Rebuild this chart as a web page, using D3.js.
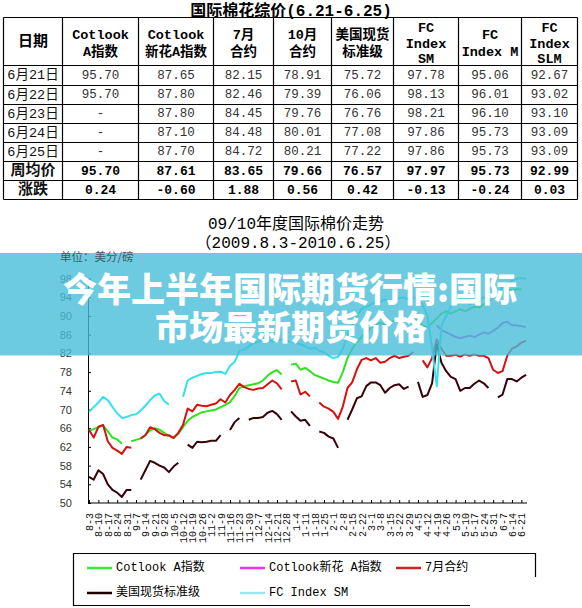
<!DOCTYPE html>
<html>
<head>
<meta charset="utf-8">
<script src="https://cdn.jsdelivr.net/npm/d3@7"></script>
<style>
  html, body { margin: 0; padding: 0; background: #fff; }
  svg { display: block; }
</style>
</head>
<body>
<div id="chart"></div>
<script>
// ---- table data ----
var tableTitle = '国际棉花综价(6.21-6.25)';
var headers = [['日期'], ['Cotlook', 'A指数'], ['Cotlook', '新花A指数'], ['7月', '合约'], ['10月', '合约'],
    ['美国现货', '标准级'], ['FC', 'Index', 'SM'], ['FC', 'Index M'], ['FC', 'Index', 'SLM']];
var rowLabels = ['6月21日', '6月22日', '6月23日', '6月24日', '6月25日', '周均价', '涨跌'];
var colCotlookA = ['95.70', '95.70', '-', '-', '-', '95.70', '0.24'];
var colCotlookNew = ['87.65', '87.80', '87.80', '87.10', '87.70', '87.61', '-0.60'];
var colJuly = ['82.15', '82.46', '84.45', '84.48', '84.72', '83.65', '1.88'];
var colOct = ['78.91', '79.39', '79.76', '80.01', '80.21', '79.66', '0.56'];
var colUsSpot = ['75.72', '76.06', '76.76', '77.08', '77.22', '76.57', '0.42'];
var colFcSM = ['97.78', '98.13', '98.21', '97.86', '97.86', '97.97', '-0.13'];
var colFcM = ['95.06', '96.01', '96.10', '95.73', '95.73', '95.73', '-0.24'];
var colFcSLM = ['92.67', '93.02', '93.10', '93.09', '93.09', '92.99', '0.03'];

// ---- chart data (one value every half week, from 8-3) ----
var weekLabels = ['8-3', '8-10', '8-17', '8-24', '8-31', '9-7', '9-14', '9-21', '9-28', '10-5', '10-12', '10-19', '10-26',
    '11-2', '11-9', '11-16', '11-23', '11-30', '12-7', '12-14', '12-21', '12-28', '1-4', '1-11', '1-18', '1-25',
    '2-1', '2-8', '2-15', '2-22', '3-1', '3-8', '3-15', '3-22', '3-29', '4-5', '4-12', '4-19', '4-26',
    '5-3', '5-10', '5-17', '5-24', '5-31', '6-7', '6-14', '6-21'];
var yTicks = [50, 54, 58, 62, 66, 70, 74, 78, 82, 86, 90, 94, 98];

var cotlookA = [65.5, 65.8, 66.2, 66.6, 65.3, 64, 63.6, 62.7, null, 63.2,
    63.5, 63.8, 64.6, 65.5, 66, 65.7, 65, 64.3, 64, 64.8,
    66.2, 67.6, 68.4, 68.9, 69.4, 69.6, 69.8, 70, 70.5, 71,
    71.6, 72.9, 74.6, 75, 75.2, 75.4, 75.6, 76.2, 77.2, 78,
    78.4, 77.5, null, 79.6, 79.8, 78.5, 78.9, 78.2, 77.4, 77,
    76.6, 76.2, 75.9, 75.7, 78, 81, 83, 84.5, 85.5, 86.5,
    87.5, 88, 88.5, 88.2, 88.7, 89, 89.2, 88.8, 89.3, 89.7,
    89, 88, 87.5, 88.5, 89.5, 90.5, 91, 90.5, 91, 91.5,
    91, 91.5, 92, 91.8, 92.5, 93, 94, 94.5, 95, 95.7,
    95.5, 95.7, 95.7, null];
var newCropStart = 74;
var cotlookNew = [88, 87, 86.5, 86, 85.5, 85.3, 85.5, 85.8, 85.5, 86,
    86.5, 86.2, 86.8, 87.5, 88.5, 88.8, 88, 88, 87.8, 87.7];
var julyContract = [65.6, 64, 66.3, 66.7, 63.2, 61.8, 61.2, 60.5, 62, 61.8,
    null, 63.8, 64.5, 66.2, 65.8, 65, 64.5, 64.5, 63.9, 65,
    66.7, 70.2, 69.6, 71, 70.8, 70.7, 71, 71.3, 72.2, 71.5,
    73.1, 74.2, 75.5, 74.8, 74.4, 74.2, 74.5, 74.6, 75.4, 76.2,
    75.6, 74.3, null, 76, 76.2, 73.2, 73.8, 72.8, null, 71.5,
    70.6, 70.2, 69.5, 68, 70.6, 74.6, 75.8, 78.6, 80.6, 81,
    80.5, 81, 80, 80.2, 81, 81.5, 81, 81.3, 81.5, 82.3,
    null, 80.5, 79, 81, 85, 83, 81.5, 81.5, 81.7, 81.3,
    81.8, 81.5, 81.8, 81.5, 81.5, 81, 78.5, 77.8, 78.2, 81.5,
    83, 83.5, 84.3, 84.7];
var usSpot = [55.6, 55, 57, 56.2, 54, 52.8, 52.2, 51.3, 52.8, 52.8,
    null, 55, 57, 59, 58.6, 58, 57.6, 56.6, 57.8, 58.6,
    null, 62.5, 61.8, 63.1, 63, 63.1, 63.3, 63.3, 64.5, null,
    65.6, 67.3, 68.2, null, 67.8, 68.2, 68.2, 68.4, 69.3, 69.7,
    69, 67.8, null, 69.6, 68.5, 67.6, 67.8, 66.5, null, 65.3,
    65, 64.2, 63.8, 61.8, null, 67.8, 70, 72.4, 72.8, 75,
    75.8, 75.8, 75.2, 73.6, 74.6, 75.2, 75.4, 74.4, 74.9, null,
    75.9, 72.7, 73.1, 75.6, 84, 80, 78.2, 77, 76.5, 74,
    74.6, 74.6, 75.5, 76.2, 75.6, 74.6, null, 72.6, 73.2, 76.5,
    76.5, 76, 76.8, 77.4];
var fcIndexSM = [69.5, 70.5, 71.5, 72.7, 72, 70.5, 69.2, 68.2, 68.4, 68.8,
    69, 69.8, 70.8, 72, 73, 73.4, 71.8, 71, null, null,
    72.7, 76.2, 76.8, 77.2, 77.6, 77.8, 77.8, 78, 78.1, 77.6,
    79.3, 80.2, 82.5, 82.8, 83.5, 84.2, 84.5, 84.8, 85, 84.5,
    84.8, 85, 84.6, 84.5, 84.2, 84, 83.5, 83, 83.2, 82.5,
    82.3, 81.5, 81, 81.3, 83, 86, 88, 90, 91.5, 92,
    92.5, 93, 93, 93.5, 93.2, 93.5, 93.8, 94, 93.5, 94,
    93.5, 92.5, 90, 83, 75, 88, 90, 92, 93, 93.5,
    93, 92.5, 93, 93.5, 94, 93.5, 94, 95, 96, 97,
    97.5, 98, 98.1, 97.9];

var legendNames = ['Cotlook A指数', 'Cotlook新花 A指数', '7月合约', '美国现货标准级', 'FC Index SM'];

var width = 582, height = 608;
var monoCjk = '"Liberation Mono", "Noto Sans CJK SC", monospace';
var cjk = '"Noto Sans CJK SC", sans-serif';

var svg = d3.select('#chart').append('svg')
    .attr('width', width)
    .attr('height', height)
    .attr('viewBox', `0 0 ${width} ${height}`);

// ================= table =================
var colX = [3.5, 62.5, 138.5, 213.5, 273.5, 331.5, 393.5, 458.5, 521.5, 577.5];
var rowY = [17.5, 65.5, 85.5, 104.5, 123.5, 142.5, 161.5, 180.5, 199.5];
var columns = [colCotlookA, colCotlookNew, colJuly, colOct, colUsSpot, colFcSM, colFcM, colFcSLM];

svg.append('text')
    .attr('x', 291).attr('y', 16)
    .attr('text-anchor', 'middle')
    .style('font-family', monoCjk).style('font-weight', 'bold').style('font-size', '16px')
    .text(tableTitle);

var tableG = svg.append('g').attr('class', 'table');
colX.forEach(function(x) {
    tableG.append('line').attr('x1', x).attr('x2', x).attr('y1', rowY[0]).attr('y2', rowY[rowY.length - 1])
        .attr('stroke', '#000').attr('stroke-width', 1.2);
});
rowY.forEach(function(y) {
    tableG.append('line').attr('x1', colX[0]).attr('x2', colX[colX.length - 1]).attr('y1', y).attr('y2', y)
        .attr('stroke', '#000').attr('stroke-width', 1.2);
});

// header cells
var headerCenters = { 1: [42], 2: [35, 52], 3: [28, 44, 59] };
headers.forEach(function(lines, c) {
    var cx = (colX[c] + colX[c + 1]) / 2;
    lines.forEach(function(t, j) {
        tableG.append('text')
            .attr('x', cx).attr('y', headerCenters[lines.length][j])
            .attr('text-anchor', 'middle').attr('dominant-baseline', 'central')
            .style('font-family', monoCjk).style('font-weight', 'bold')
            .style('font-size', lines.length === 1 ? '15px' : '13.5px')
            .text(t);
    });
});

// body cells
rowLabels.forEach(function(label, r) {
    var cy = (rowY[r + 1] + rowY[r + 2]) / 2;
    var bold = r >= 5;
    tableG.append('text')
        .attr('x', (colX[0] + colX[1]) / 2).attr('y', cy)
        .attr('text-anchor', 'middle').attr('dominant-baseline', 'central')
        .style('font-family', monoCjk).style('font-weight', bold ? 'bold' : 'normal')
        .style('font-size', bold ? '15px' : '13.5px')
        .attr('fill', '#111')
        .text(label);
    columns.forEach(function(col, c) {
        tableG.append('text')
            .attr('x', (colX[c + 1] + colX[c + 2]) / 2).attr('y', cy)
            .attr('text-anchor', 'middle').attr('dominant-baseline', 'central')
            .style('font-family', monoCjk).style('font-weight', bold ? 'bold' : 'normal')
            .style('font-size', bold ? '13px' : '12.5px')
            .attr('fill', bold ? '#000' : '#333')
            .text(col[r]);
    });
});

// ================= chart =================
var x = d3.scaleLinear().domain([0, 46.6]).range([89, 527]);
var y = d3.scaleLinear().domain([50, 98]).range([503, 278.6]);

svg.append('text')
    .attr('x', 296).attr('y', 225)
    .attr('text-anchor', 'middle').attr('dominant-baseline', 'central')
    .style('font-family', monoCjk).style('font-size', '16px')
    .text('09/10年度国际棉价走势');
svg.append('text')
    .attr('x', 298).attr('y', 244)
    .attr('text-anchor', 'middle').attr('dominant-baseline', 'central')
    .style('font-family', monoCjk).style('font-size', '16px')
    .text('（2009.8.3-2010.6.25）');

// axes
var yAxis = d3.axisLeft(y).tickValues(yTicks).tickSize(-3).tickSizeOuter(0).tickPadding(16);
var yG = svg.append('g').attr('class', 'axis y').attr('transform', 'translate(88,0)').call(yAxis);
yG.selectAll('text').style('font-family', '"Liberation Sans", Arial, sans-serif').style('font-size', '11px').attr('fill', '#333');
yG.selectAll('line, path').attr('stroke', '#000');

var xAxis = d3.axisBottom(x).tickValues(d3.range(weekLabels.length)).tickSize(-3).tickSizeOuter(0)
    .tickFormat(function(d) { return weekLabels[d]; });
var xG = svg.append('g').attr('class', 'axis x').attr('transform', 'translate(0,503)').call(xAxis);
xG.select('.domain').attr('d', 'M88,0H527');
xG.selectAll('line, path').attr('stroke', '#000');
xG.selectAll('text')
    .attr('transform', 'rotate(-90)')
    .attr('text-anchor', 'end')
    .attr('x', -10).attr('y', 0).attr('dy', '0.35em')
    .style('font-family', '"Liberation Mono", monospace').style('font-size', '10px')
    .attr('fill', '#111');

// series
var line = d3.line()
    .defined(function(d) { return d != null; })
    .x(function(d, i) { return x(i / 2); })
    .y(function(d) { return y(d); });
var newLine = d3.line()
    .defined(function(d) { return d != null; })
    .x(function(d, i) { return x((newCropStart + i) / 2); })
    .y(function(d) { return y(d); });

var series = [
    { values: cotlookA, color: '#2ee21e', gen: line },
    { values: cotlookNew, color: '#cc33dd', gen: newLine },
    { values: julyContract, color: '#d81010', gen: line },
    { values: usSpot, color: '#3a0008', gen: line },
    { values: fcIndexSM, color: '#33e2f0', gen: line }
];
var chartG = svg.append('g').attr('class', 'chartG');
series.forEach(function(s) {
    chartG.append('path')
        .attr('d', s.gen(s.values))
        .attr('fill', 'none')
        .attr('stroke', s.color)
        .attr('stroke-width', 2)
        .attr('stroke-linejoin', 'round');
});

// legend
var legendColors = ['#33ee33', '#ee33ee', '#cc2222', '#220000', '#99e6f2'];
var legendG = svg.append('g').attr('class', 'legend');
legendG.append('path')
    .attr('d', 'M470,605.5H73.5V553.5H535.5V577')
    .attr('fill', 'none').attr('stroke', '#000').attr('stroke-width', 1.2);
var legendPos = [[87, 568], [240, 568], [396, 568], [87, 593], [240, 593]];
legendNames.forEach(function(name, i) {
    var p = legendPos[i];
    legendG.append('line')
        .attr('x1', p[0]).attr('x2', p[0] + 25).attr('y1', p[1]).attr('y2', p[1])
        .attr('stroke', legendColors[i]).attr('stroke-width', 2.5);
    legendG.append('text')
        .attr('x', p[0] + 29).attr('y', p[1])
        .attr('dominant-baseline', 'central')
        .style('font-family', monoCjk).style('font-size', '12px')
        .text(name);
});

// overlay banner
var bannerG = svg.append('g').attr('class', 'banner');
bannerG.append('rect')
    .attr('x', 0).attr('y', 253).attr('width', width).attr('height', 102.5)
    .attr('fill', '#47bed8').attr('opacity', 0.8);
// unit label sits on the banner's top edge and stays readable
svg.append('text')
    .attr('x', 60).attr('y', 256)
    .attr('dominant-baseline', 'central')
    .style('font-family', cjk).style('font-size', '11.5px')
    .attr('fill', '#4a5a60')
    .text('单位：美分/磅');
bannerG.append('text')
    .attr('x', 290).attr('y', 302)
    .attr('text-anchor', 'middle')
    .style('font-family', cjk).style('font-weight', 900).style('font-size', '34px')
    .attr('fill', '#fff')
    .text('今年上半年国际期货行情:国际');
bannerG.append('text')
    .attr('x', 291).attr('y', 340)
    .attr('text-anchor', 'middle')
    .style('font-family', cjk).style('font-weight', 900).style('font-size', '34px')
    .attr('fill', '#fff')
    .text('市场最新期货价格');
</script>
</body>
</html>
